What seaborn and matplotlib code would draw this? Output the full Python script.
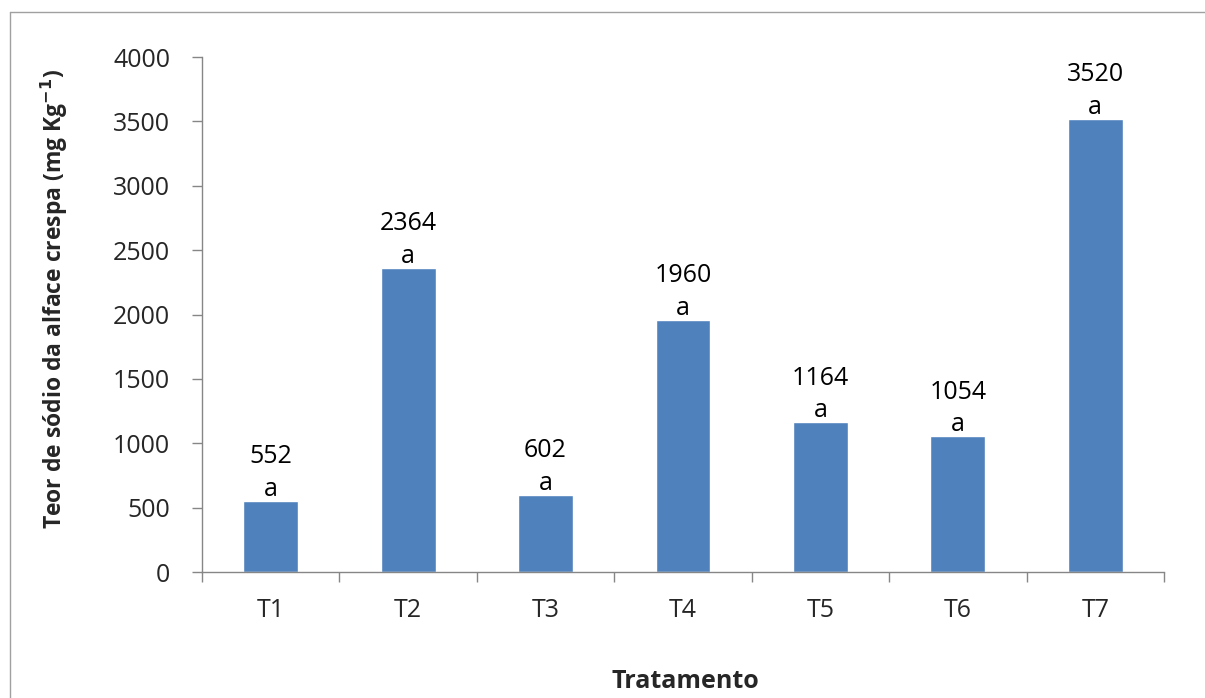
import numpy as np
import pandas as pd
import matplotlib
matplotlib.use('Agg')
import matplotlib.pyplot as plt
from matplotlib.lines import Line2D
import seaborn as sns

sns.set_theme(style='white')
plt.rcParams['font.family'] = ['Open Sans', 'DejaVu Sans']

tratamentos = ['T1', 'T2', 'T3', 'T4', 'T5', 'T6', 'T7']
teor_sodio = [552, 2364, 602, 1960, 1164, 1054, 3520]
letras = ['a', 'a', 'a', 'a', 'a', 'a', 'a']

BAR_COLOR = '#4F81BD'
AXIS_COLOR = '#868686'

df = pd.DataFrame({'Tratamento': tratamentos, 'Teor': teor_sodio})

fig = plt.figure(figsize=(12.05, 6.98), dpi=100)
ax = fig.add_axes([0.1676, 0.1805, 0.7984, 0.7378])

sns.barplot(data=df, x='Tratamento', y='Teor', color=BAR_COLOR, saturation=1,
            width=0.4, ax=ax)

for bar, val, let in zip(ax.patches, teor_sodio, letras):
    cx = bar.get_x() + bar.get_width() / 2
    top = bar.get_height()
    ax.annotate(f'{val}', xy=(cx, top), xytext=(0, 27), textcoords='offset points',
                ha='center', va='baseline', fontsize=18, color='black')
    ax.annotate(let, xy=(cx, top), xytext=(0, 3.5), textcoords='offset points',
                ha='center', va='baseline', fontsize=18, color='black')

ax.set_ylim(0, 4000)
ax.set_yticks(np.arange(0, 4001, 500))
ax.set_xlim(-0.5, len(tratamentos) - 0.5)

# category ticks drawn at the boundaries, labels centered
ax.set_xticks(np.arange(-0.5, len(tratamentos), 1.0), minor=False)
ax.set_xticklabels([])
ax.set_xticks(np.arange(len(tratamentos)), minor=True)
ax.set_xticklabels(tratamentos, minor=True)
ax.tick_params(axis='x', which='major', direction='out', length=7, width=1,
               color=AXIS_COLOR, bottom=True)
ax.tick_params(axis='x', which='minor', length=0, pad=19, labelsize=18)
ax.tick_params(axis='y', direction='out', length=7, width=1, color=AXIS_COLOR,
               left=True, labelsize=18, pad=16)

for s in ['top', 'right']:
    ax.spines[s].set_visible(False)
for s in ['left', 'bottom']:
    ax.spines[s].set_color(AXIS_COLOR)
    ax.spines[s].set_linewidth(1)

ax.set_xlabel('Tratamento', fontsize=18, fontweight='bold')
ax.set_ylabel('Teor de sódio da alface crespa (mg Kg$^{\\mathbf{-1}}$)',
              fontsize=16.5, fontweight='bold')
ax.xaxis.set_label_coords(0.502, -0.188)
ax.yaxis.set_label_coords(-0.137, 0.53)

# outer chart frame (top and left visible)
fig.add_artist(Line2D([10 / 1205, 10 / 1205], [0, 1 - 12 / 698],
                      transform=fig.transFigure, color='#A0A0A0', lw=1))
fig.add_artist(Line2D([10 / 1205, 1], [1 - 12 / 698, 1 - 12 / 698],
                      transform=fig.transFigure, color='#A0A0A0', lw=1))

plt.savefig('out.png', dpi=100)
